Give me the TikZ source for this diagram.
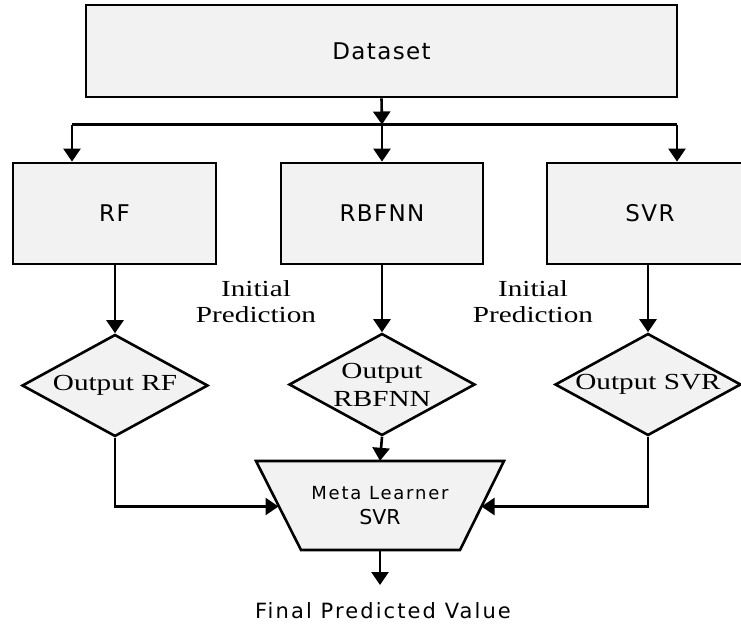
\documentclass[tikz,border=0pt]{standalone}
\usepackage{fontspec}
\setmainfont{Liberation Serif}
\newfontfamily\sansL[LetterSpace=6]{DejaVu Sans}
\newfontfamily\sansM[LetterSpace=10]{DejaVu Sans}
\newfontfamily\sansF[LetterSpace=10]{DejaVu Sans}
\newfontfamily\sansP{DejaVu Sans}
\newfontfamily\serifS[FakeStretch=1.27]{Liberation Serif}
\usetikzlibrary{arrows.meta,shapes.geometric}
\definecolor{boxfill}{HTML}{F2F2F2}
\begin{document}
\begin{tikzpicture}[x=1pt,y=-1pt,
  boxstyle/.style={draw, line width=2.8pt, fill=boxfill, inner sep=0pt,
    font=\sansL\fontsize{23}{27}\selectfont},
  diam/.style={diamond, draw, line width=2.6pt, fill=boxfill, inner sep=0pt,
    shape aspect=1.8, minimum width=186pt, minimum height=102pt,
    align=center, font=\serifS\fontsize{23}{28}\selectfont},
  trap/.style={fill=boxfill, draw, line width=2.6pt, line join=miter},
  arr/.style={line width=2.6pt, -{Triangle[length=13pt,width=17pt]}},
  ln/.style={line width=2.6pt},
  lbl/.style={align=center, inner sep=0pt, font=\serifS\fontsize{23}{26}\selectfont}]
\useasboundingbox (0,0) rectangle (741,624);
\fill[white] (0,0) rectangle (741,624);
\clip (0,0) rectangle (741,624);

% top box
\node[boxstyle, minimum width=591pt, minimum height=92pt] (data) at (381.5,51) {Dataset};

% model boxes
\node[boxstyle, minimum width=203pt, minimum height=101pt] (rf) at (114.5,213.5) {RF};
\node[boxstyle, minimum width=202pt, minimum height=101pt] (rbf) at (382,213.5) {RBFNN};
\node[boxstyle, minimum width=206pt, minimum height=101pt] (svr) at (650,213.5) {SVR};

% distribution
\coordinate (split) at (382,124.5);
\coordinate (hL) at (72,124.5);
\coordinate (hR) at (677,124.5);
\draw[arr] (data.south) -- (split);
\draw[ln] (hL) -- (hR);
\draw[arr] (hL) -- (hL |- rf.north);
\draw[arr] (split) -- (rbf.north);
\draw[arr] (hR) -- (hR |- svr.north);

% diamonds
\node[diam] (drf) at (115,385.5) {Output RF};
\node[diam] (drb) at (382,384.5) {Output\\RBFNN};
\node[diam] (dsvr) at (648,384.5) {Output SVR};

\draw[arr] (drf.north |- rf.south) -- (drf.north);
\draw[arr] (drb.north |- rbf.south) -- (drb.north);
\draw[arr] (dsvr.north |- svr.south) -- (dsvr.north);

% labels
\node[lbl] (ip1) at (256,302) {Initial\\Prediction};
\node[lbl] (ip2) at (533,302) {Initial\\Prediction};

% meta learner trapezoid
\filldraw[trap] (256,461) -- (504,461) -- (460,550) -- (301,550) -- cycle;
\node[minimum width=248pt, minimum height=89pt, inner sep=0pt, align=center] (meta) at (380,505.5)
  {\sansM\fontsize{18}{20}\selectfont Meta Learner\\[9pt]\sansP\fontsize{20.5}{26}\selectfont SVR};

\coordinate (mL) at (278.5,506.5);
\coordinate (mR) at (481.5,506.5);
\draw[arr] (drf.south) |- (mL);
\draw[arr] (dsvr.south) |- (mR);
\draw[arr] (drb.south) -- (meta.north);

% final
\node[anchor=base, inner sep=0pt, font=\sansF\fontsize{21}{25}\selectfont] (final) at (383,618) {Final Predicted Value};
\coordinate (fin) at (380,585);
\draw[arr] (meta.south) -- (fin);
\end{tikzpicture}
\end{document}
